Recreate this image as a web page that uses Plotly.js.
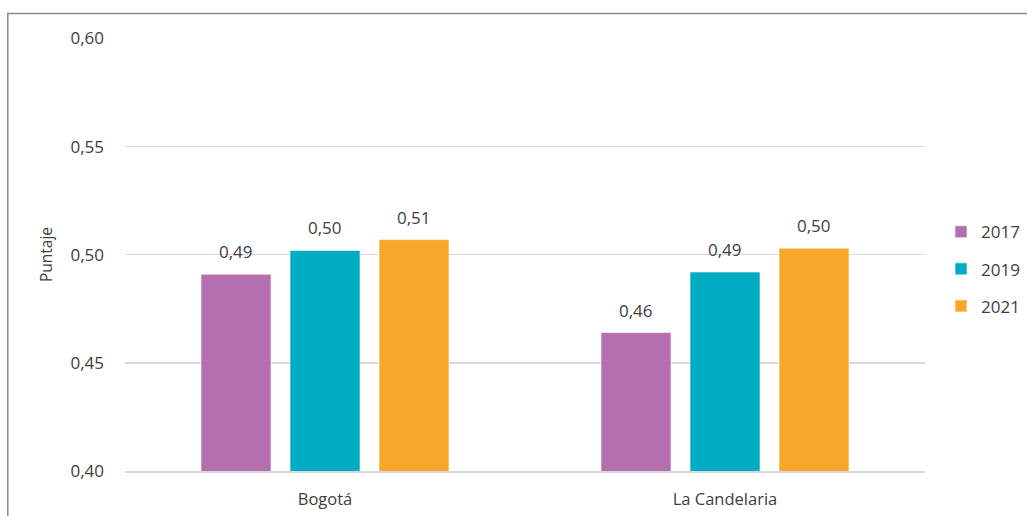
<!DOCTYPE html>
<html>
<head>
<meta charset="utf-8">
<script src="https://cdn.plot.ly/plotly-3.0.1.min.js"></script>
<style>html,body{margin:0;padding:0;background:#fff;}#chart{width:1027px;height:516px;}</style>
</head>
<body>
<div id="chart"></div>
<script>
const categories = ["Bogotá", "La Candelaria"];
const seriesNames = ["2017", "2019", "2021"];
const values2017 = [0.491, 0.464];
const values2019 = [0.502, 0.492];
const values2021 = [0.507, 0.503];
const colors = ["#B36FAF", "#00ACC4", "#F8A72A"];
const yTicks = [0.40, 0.45, 0.50, 0.55, 0.60];

const allValues = [values2017, values2019, values2021];

const BARGAP = 0.3325;
const BARGROUPGAP = 0.2135;
const PLOT_W = 800;
const slotPx = PLOT_W / categories.length * (1 - BARGAP) / allValues.length;

const traces = allValues.map((vals, i) => ({
  type: "bar",
  name: seriesNames[i],
  x: categories,
  y: vals,
  marker: { color: colors[i], line: { color: "rgba(255,255,255,0.6)", width: 1 } },
  legendgroup: "g" + i,
  hoverinfo: "skip"
}));

const annotations = [];
allValues.forEach((vals, i) => {
  vals.forEach((v, j) => {
    annotations.push({
      x: categories[j],
      y: v,
      xref: "x", yref: "y",
      text: v.toFixed(2).replace(".", ","),
      showarrow: false,
      xanchor: "center",
      yanchor: "bottom",
      xshift: (i - 1) * slotPx,
      yshift: 9,
      font: { family: "Open Sans, sans-serif", size: 17, color: "#404040" }
    });
  });
});

const layout = {
  width: 1027,
  height: 516,
  margin: { l: 125, r: 102, t: 38, b: 45, autoexpand: false },
  paper_bgcolor: "#fff",
  plot_bgcolor: "#fff",
  separators: ",.",
  barmode: "group",
  bargap: BARGAP,
  bargroupgap: BARGROUPGAP,
  font: { family: "Open Sans, sans-serif", size: 16, color: "#404040" },
  xaxis: {
    showgrid: false,
    showline: true,
    linecolor: "#d9d9d9",
    linewidth: 1.5,
    ticks: "",
    ticklabelstandoff: 13,
    tickfont: { size: 16.5, color: "#404040" }
  },
  yaxis: {
    range: [0.40, 0.6002],
    tickvals: yTicks,
    tickformat: ".2f",
    showgrid: true,
    gridcolor: "#d9d9d9",
    gridwidth: 1.5,
    zeroline: false,
    showline: false,
    ticks: "",
    ticklabelstandoff: 20,
    tickfont: { size: 17, color: "#404040" },
    title: { text: "Puntaje", font: { size: 15.5, color: "#404040" }, standoff: 14 }
  },
  legend: {
    x: 1.02,
    xanchor: "left",
    y: 0.466,
    yanchor: "middle",
    font: { size: 17, color: "#404040" },
    traceorder: "grouped",
    tracegroupgap: 12,
    itemwidth: 30
  },
  annotations: annotations,
  shapes: [{
    type: "rect",
    xref: "paper", yref: "paper",
    x0: -0.1465, x1: 1.3, y0: -0.3, y1: 1.0566,
    line: { color: "#8a8a8a", width: 1.5 },
    fillcolor: "rgba(0,0,0,0)",
    layer: "below"
  }]
};

Plotly.newPlot("chart", traces, layout, { displayModeBar: false, staticPlot: true });
</script>
</body>
</html>
